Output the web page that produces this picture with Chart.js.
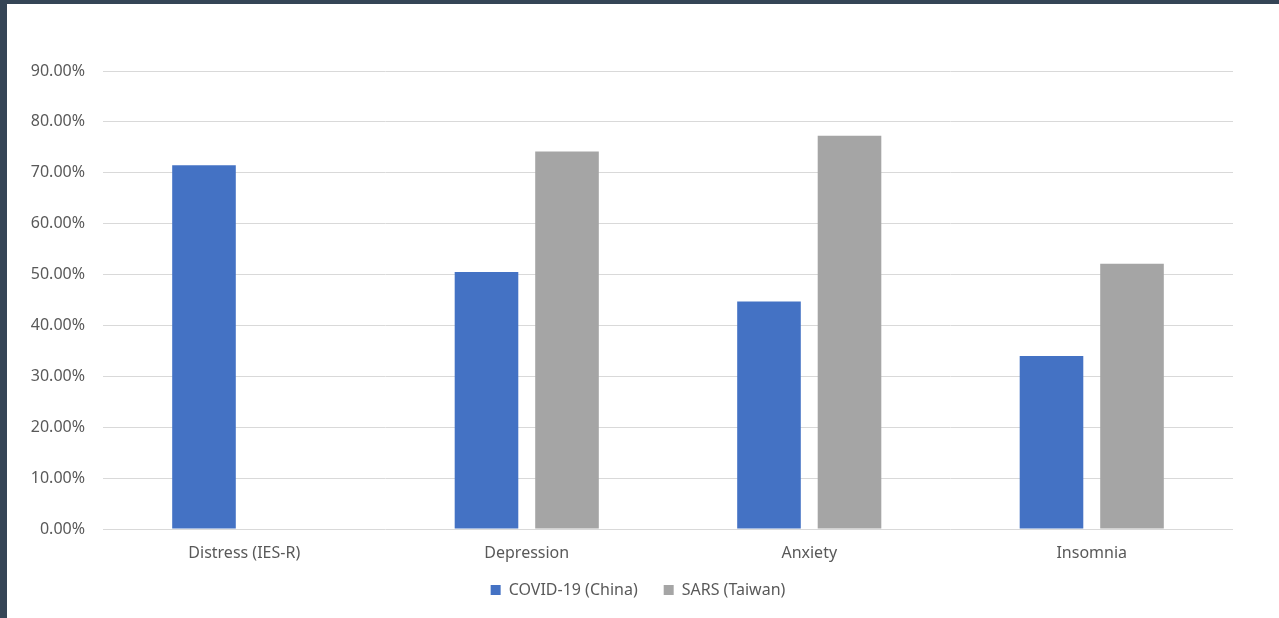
<!DOCTYPE html>
<html>
<head>
<meta charset="utf-8">
<script src="https://cdn.jsdelivr.net/npm/chart.js@4"></script>
<style>
  html, body { margin: 0; padding: 0; background: #354556; overflow: hidden; }
  .frame { position: absolute; left: 7px; top: 4px; width: 1272px; height: 614px; background: #ffffff; }
</style>
</head>
<body>
<div class="frame"><canvas id="chart" width="1272" height="614"></canvas></div>
<script>
// Categories and series values (%)
const categories = ['Distress (IES-R)', 'Depression', 'Anxiety', 'Insomnia'];
const covidChina = [71.5, 50.5, 44.7, 34.0];
const sarsTaiwan = [null, 74.2, 77.3, 52.1];
const yTicks = [0, 10, 20, 30, 40, 50, 60, 70, 80, 90];

const textColor = '#595959';
const gridColor = '#d9d9d9';
const labelFont = { family: 'Noto Sans', size: 16 };

const ctx = document.getElementById('chart').getContext('2d');
new Chart(ctx, {
    type: 'bar',
    data: {
        labels: categories,
        datasets: [{
            label: 'COVID-19 (China)',
            data: covidChina,
            backgroundColor: '#4472c4',
            categoryPercentage: 0.57,
            barPercentage: 0.79
        }, {
            label: 'SARS (Taiwan)',
            data: sarsTaiwan,
            backgroundColor: '#a5a5a5',
            categoryPercentage: 0.57,
            barPercentage: 0.79
        }]
    },
    options: {
        responsive: false,
        animation: false,
        layout: {
            padding: { top: 67, right: 10, bottom: 10, left: 0 }
        },
        plugins: {
            tooltip: { enabled: false },
            legend: {
                position: 'bottom',
                labels: {
                    color: textColor,
                    font: labelFont,
                    boxWidth: 10,
                    boxHeight: 10,
                    padding: 18,
                    // a little extra room after the first entry
                    generateLabels: function(chart) {
                        const items = Chart.defaults.plugins.legend.labels.generateLabels(chart);
                        items[0].text += '\u2002';
                        return items;
                    }
                }
            }
        },
        scales: {
            x: {
                afterFit: function(scale) { scale.height = 35; },
                grid: { display: false, drawTicks: false },
                border: { display: false },
                ticks: {
                    color: textColor,
                    font: labelFont,
                    padding: 15,
                    autoSkip: false,
                    maxRotation: 0
                }
            },
            y: {
                min: 0,
                max: 90,
                afterFit: function(scale) { scale.width = 96; },
                afterBuildTicks: function(scale) {
                    scale.ticks = yTicks.map(v => ({ value: v }));
                },
                grid: { color: gridColor, drawTicks: false },
                border: { display: false },
                ticks: {
                    color: textColor,
                    font: labelFont,
                    padding: 18,
                    callback: v => v.toFixed(2) + '%'
                }
            },
            // empty right-hand margin so the legend stays centred on the page
            yRight: {
                position: 'right',
                afterFit: function(scale) { scale.width = 36; },
                grid: { display: false },
                border: { display: false },
                ticks: { display: false }
            }
        }
    }
});
</script>
</body>
</html>
